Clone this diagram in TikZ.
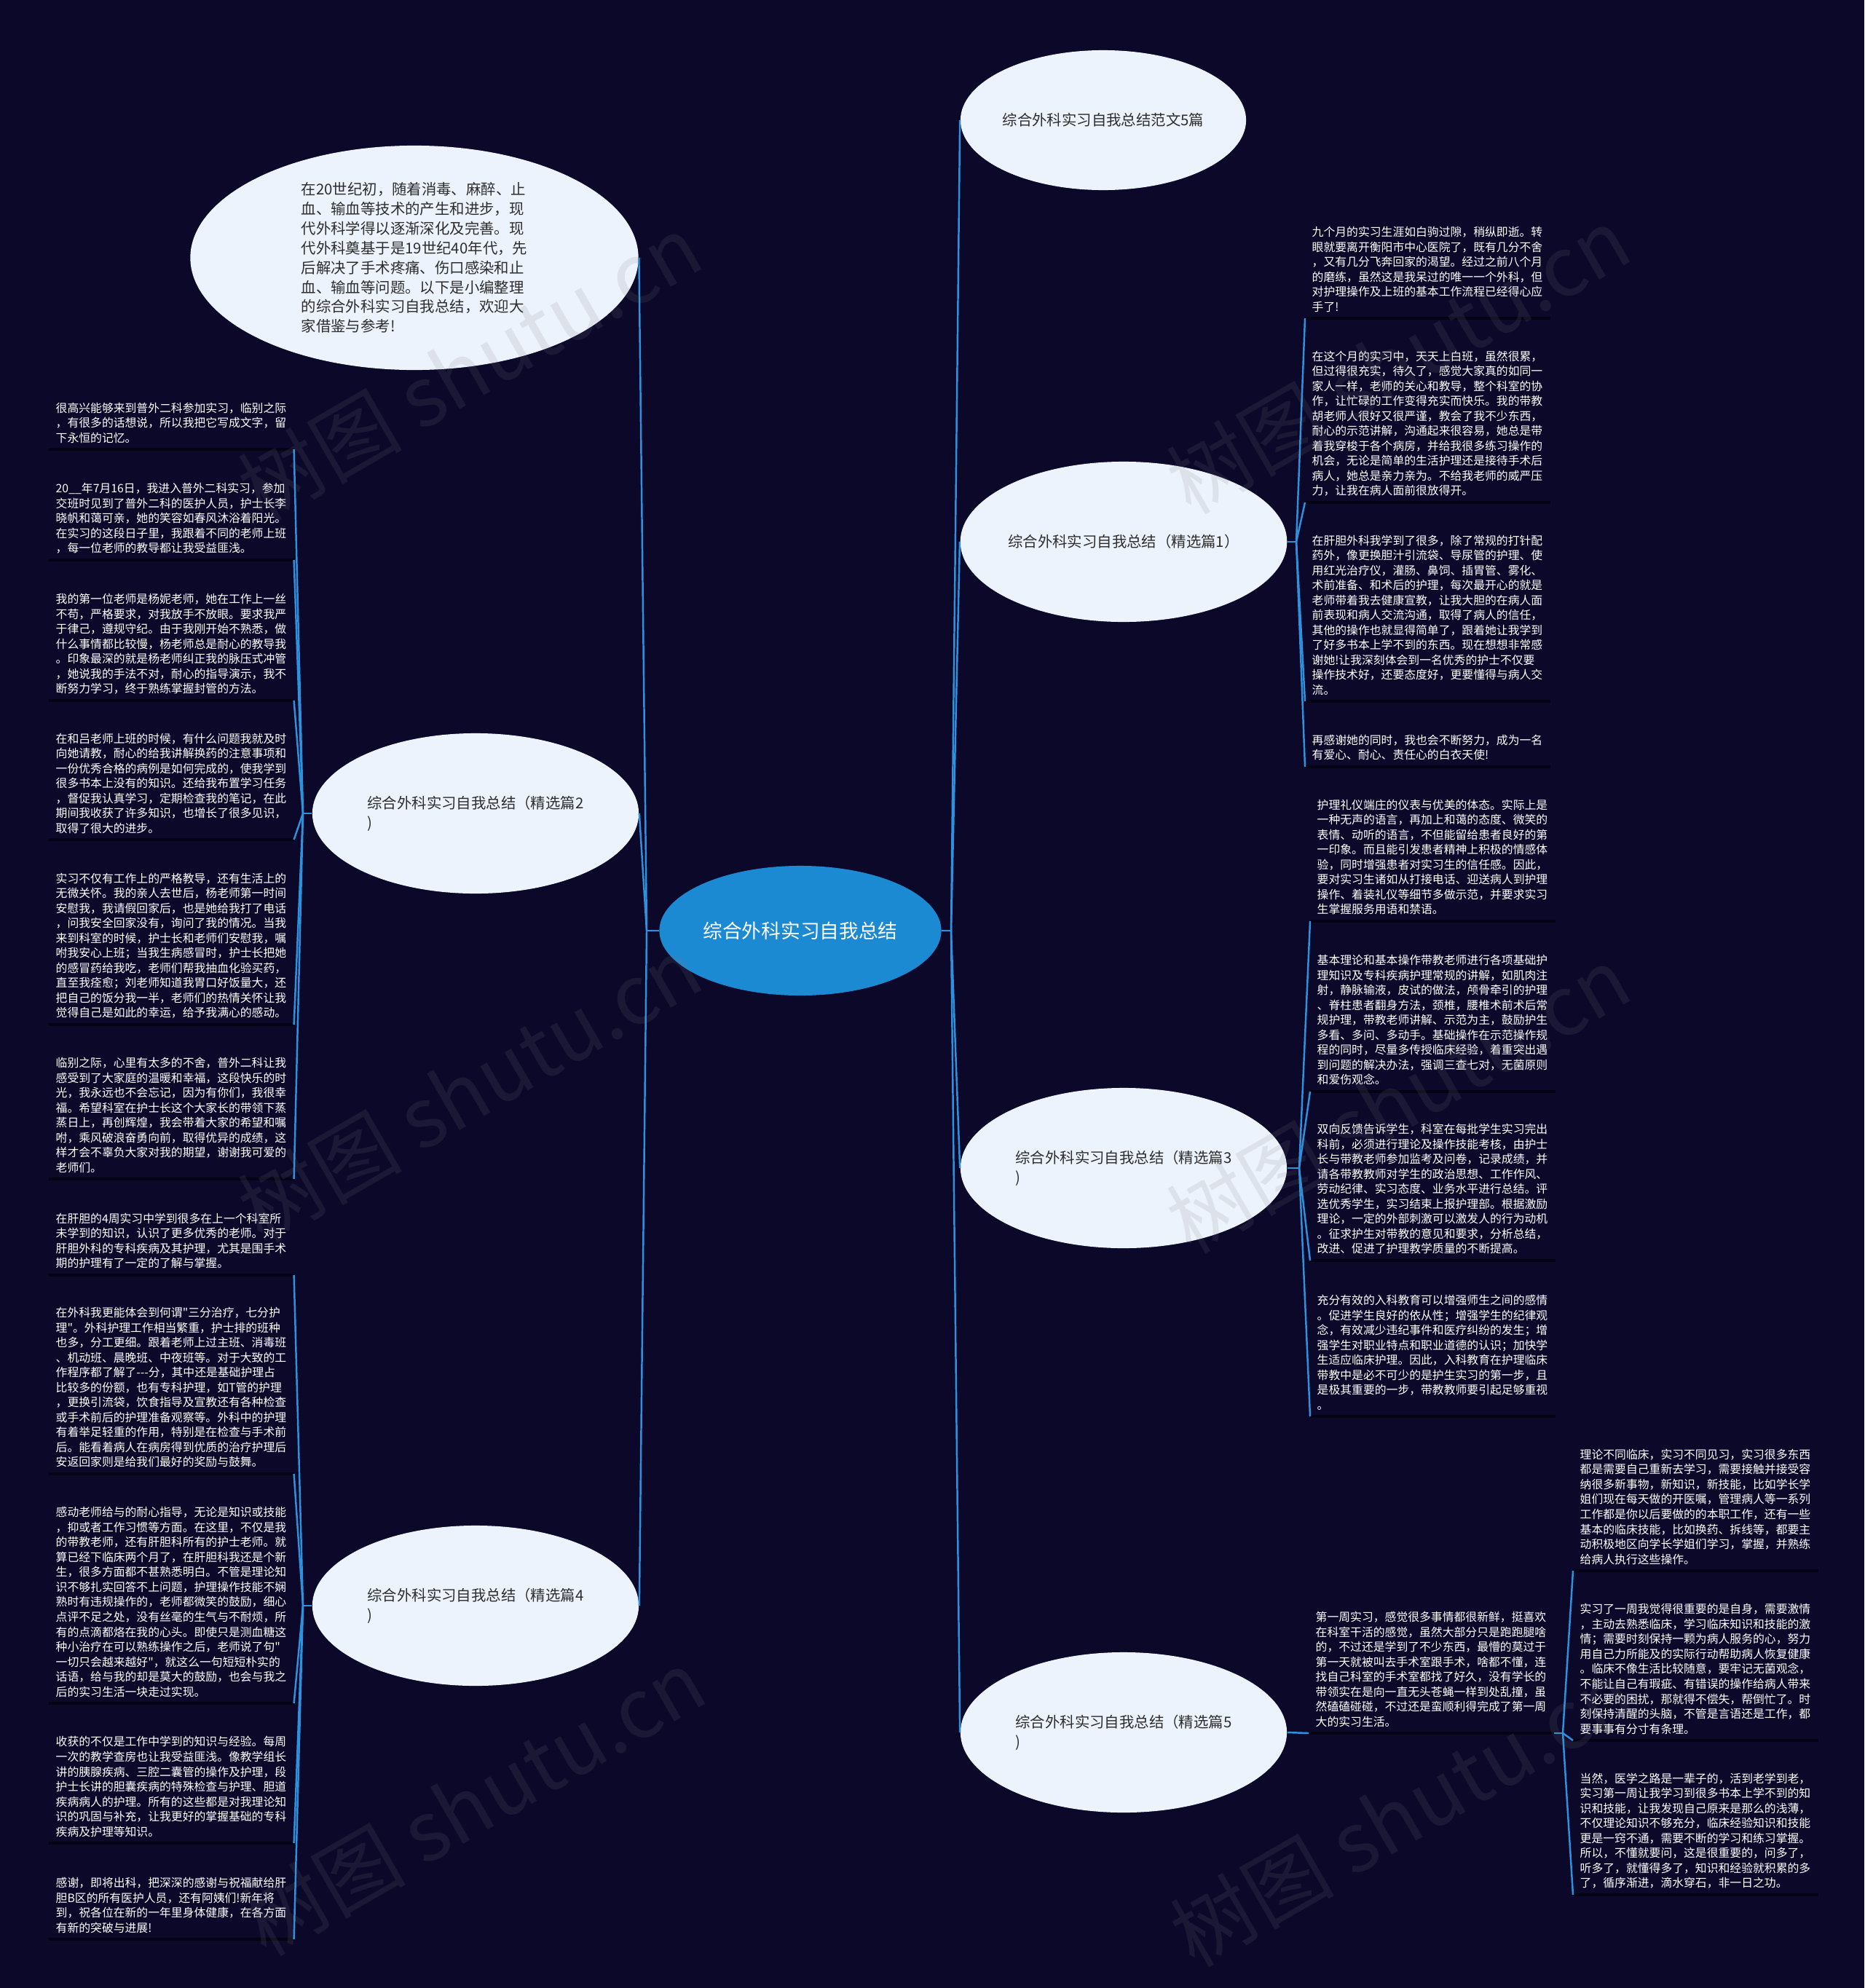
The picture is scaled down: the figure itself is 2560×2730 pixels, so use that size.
\documentclass[tikz,border=0pt]{standalone}
\usepackage{fontspec}
\usepackage{xcolor}
\usepackage{tikz}
\usetikzlibrary{shapes.geometric}
\newfontfamily\cjk{Noto Sans CJK SC}
\definecolor{night}{RGB}{11,8,42}
\definecolor{skyline}{RGB}{46,145,222}
\definecolor{rootblue}{RGB}{28,137,211}
\definecolor{paleblue}{RGB}{237,243,252}
\definecolor{inkgray}{RGB}{45,45,45}
\definecolor{shade}{RGB}{3,3,20}
\newcommand{\leaffont}{\cjk\fontsize{4.5}{5.83}\selectfont}
\newcommand{\topicfont}{\cjk\fontsize{5.8}{7.6}\selectfont}

\begin{document}
\begin{tikzpicture}[x=0.01cm, y=-0.01cm, every node/.style={inner sep=0pt},
  root/.style={ellipse, fill=rootblue, text=white, minimum width=3.87cm, minimum height=1.78cm, font=\cjk\fontsize{7.6}{9}\selectfont},
  topic/.style={ellipse, fill=paleblue, text=inkgray, minimum width=4.48cm, minimum height=2.2cm, align=left, font=\topicfont},
  leaf/.style={anchor=south west, text=white, text width=3.17cm, align=left, inner xsep=0.09cm, inner ysep=0.08cm, font=\leaffont},
  branch/.style={draw=skyline, line width=0.7pt},
  leafrule/.style={draw=shade, line width=0.9pt},
  wmark/.style={rotate=30, text=gray, opacity=0.14, font=\cjk\fontsize{32}{32}\selectfont}]
\fill[night] (0,0) rectangle (2560,2730);
\useasboundingbox (0,0) rectangle (2560,2730);

% centre and first level
\node[root] (c) at (1099,1278) {综合外科实习自我总结};
\node[topic, minimum width=6.15cm, minimum height=3.08cm, font=\cjk\fontsize{5.8}{7.63}\selectfont] (intro) at (569,354) {在20世纪初，随着消毒、麻醉、止\\血、输血等技术的产生和进步，现\\代外科学得以逐渐深化及完善。现\\代外科奠基于是19世纪40年代，先\\后解决了手术疼痛、伤口感染和止\\血、输血等问题。以下是小编整理\\的综合外科实习自我总结，欢迎大\\家借鉴与参考!};
\node[topic, minimum width=3.92cm, minimum height=1.92cm] (p0) at (1515,165) {综合外科实习自我总结范文5篇};
\node[topic] (p1) at (1543,744) {综合外科实习自我总结（精选篇1）};
\node[topic] (p2) at (653,1117) {综合外科实习自我总结（精选篇2\\)};
\node[topic] (p3) at (1543,1604) {综合外科实习自我总结（精选篇3\\)};
\node[topic] (p4) at (653,2205) {综合外科实习自我总结（精选篇4\\)};
\node[topic] (p5) at (1543,2379) {综合外科实习自我总结（精选篇5\\)};

% left leaves
\node[leaf] (l1) at (67,617) {很高兴能够来到普外二科参加实习，临别之际\\，有很多的话想说，所以我把它写成文字，留\\下永恒的记忆。};
\node[leaf] (l2) at (67,769) {20\_\_年7月16日，我进入普外二科实习，参加\\交班时见到了普外二科的医护人员，护士长李\\晓帆和蔼可亲，她的笑容如春风沐浴着阳光。\\在实习的这段日子里，我跟着不同的老师上班\\，每一位老师的教导都让我受益匪浅。};
\node[leaf] (l3) at (67,962) {我的第一位老师是杨妮老师，她在工作上一丝\\不苟，严格要求，对我放手不放眼。要求我严\\于律己，遵规守纪。由于我刚开始不熟悉，做\\什么事情都比较慢，杨老师总是耐心的教导我\\。印象最深的就是杨老师纠正我的脉压式冲管\\，她说我的手法不对，耐心的指导演示，我不\\断努力学习，终于熟练掌握封管的方法。};
\node[leaf] (l4) at (67,1153) {在和吕老师上班的时候，有什么问题我就及时\\向她请教，耐心的给我讲解换药的注意事项和\\一份优秀合格的病例是如何完成的，使我学到\\很多书本上没有的知识。还给我布置学习任务\\，督促我认真学习，定期检查我的笔记，在此\\期间我收获了许多知识，也增长了很多见识，\\取得了很大的进步。};
\node[leaf] (l5) at (67,1407) {实习不仅有工作上的严格教导，还有生活上的\\无微关怀。我的亲人去世后，杨老师第一时间\\安慰我，我请假回家后，也是她给我打了电话\\，问我安全回家没有，询问了我的情况。当我\\来到科室的时候，护士长和老师们安慰我，嘱\\咐我安心上班；当我生病感冒时，护士长把她\\的感冒药给我吃，老师们帮我抽血化验买药，\\直至我痊愈；刘老师知道我胃口好饭量大，还\\把自己的饭分我一半，老师们的热情关怀让我\\觉得自己是如此的幸运，给予我满心的感动。};
\node[leaf] (l6) at (67,1619) {临别之际，心里有太多的不舍，普外二科让我\\感受到了大家庭的温暖和幸福，这段快乐的时\\光，我永远也不会忘记，因为有你们，我很幸\\福。希望科室在护士长这个大家长的带领下蒸\\蒸日上，再创辉煌，我会带着大家的希望和嘱\\咐，乘风破浪奋勇向前，取得优异的成绩，这\\样才会不辜负大家对我的期望，谢谢我可爱的\\老师们。};
\node[leaf] (l7) at (67,1751) {在肝胆的4周实习中学到很多在上一个科室所\\未学到的知识，认识了更多优秀的老师。对于\\肝胆外科的专科疾病及其护理，尤其是围手术\\期的护理有了一定的了解与掌握。};
\node[leaf] (l8) at (67,2024) {在外科我更能体会到何谓"三分治疗，七分护\\理"。外科护理工作相当繁重，护士排的班种\\也多，分工更细。跟着老师上过主班、消毒班\\、机动班、晨晚班、中夜班等。对于大致的工\\作程序都了解了-{}-{}-分，其中还是基础护理占\\比较多的份额，也有专科护理，如T管的护理\\，更换引流袋，饮食指导及宣教还有各种检查\\或手术前后的护理准备观察等。外科中的护理\\有着举足轻重的作用，特别是在检查与手术前\\后。能看着病人在病房得到优质的治疗护理后\\安返回家则是给我们最好的奖励与鼓舞。};
\node[leaf] (l9) at (67,2339) {感动老师给与的耐心指导，无论是知识或技能\\，抑或者工作习惯等方面。在这里，不仅是我\\的带教老师，还有肝胆科所有的护士老师。就\\算已经下临床两个月了，在肝胆科我还是个新\\生，很多方面都不甚熟悉明白。不管是理论知\\识不够扎实回答不上问题，护理操作技能不娴\\熟时有违规操作的，老师都微笑的鼓励，细心\\点评不足之处，没有丝毫的生气与不耐烦，所\\有的点滴都烙在我的心头。即使只是测血糖这\\种小治疗在可以熟练操作之后，老师说了句"\\一切只会越来越好"，就这么一句短短朴实的\\话语，给与我的却是莫大的鼓励，也会与我之\\后的实习生活一块走过实现。};
\node[leaf] (l10) at (67,2531) {收获的不仅是工作中学到的知识与经验。每周\\一次的教学查房也让我受益匪浅。像教学组长\\讲的胰腺疾病、三腔二囊管的操作及护理，段\\护士长讲的胆囊疾病的特殊检查与护理、胆道\\疾病病人的护理。所有的这些都是对我理论知\\识的巩固与补充，让我更好的掌握基础的专科\\疾病及护理等知识。};
\node[leaf] (l11) at (67,2663) {感谢，即将出科，把深深的感谢与祝福献给肝\\胆B区的所有医护人员，还有阿姨们!新年将\\到，祝各位在新的一年里身体健康，在各方面\\有新的突破与进展!};

% right leaves
\node[leaf] (r1) at (1792,437) {九个月的实习生涯如白驹过隙，稍纵即逝。转\\眼就要离开衡阳市中心医院了，既有几分不舍\\，又有几分飞奔回家的渴望。经过之前八个月\\的磨练，虽然这是我呆过的唯一一个外科，但\\对护理操作及上班的基本工作流程已经得心应\\手了!};
\node[leaf] (r2) at (1792,690) {在这个月的实习中，天天上白班，虽然很累，\\但过得很充实，待久了，感觉大家真的如同一\\家人一样，老师的关心和教导，整个科室的协\\作，让忙碌的工作变得充实而快乐。我的带教\\胡老师人很好又很严谨，教会了我不少东西，\\耐心的示范讲解，沟通起来很容易，她总是带\\着我穿梭于各个病房，并给我很多练习操作的\\机会，无论是简单的生活护理还是接待手术后\\病人，她总是亲力亲为。不给我老师的威严压\\力，让我在病人面前很放得开。};
\node[leaf] (r3) at (1792,963) {在肝胆外科我学到了很多，除了常规的打针配\\药外，像更换胆汁引流袋、导尿管的护理、使\\用红光治疗仪，灌肠、鼻饲、插胃管、雾化、\\术前准备、和术后的护理，每次最开心的就是\\老师带着我去健康宣教，让我大胆的在病人面\\前表现和病人交流沟通，取得了病人的信任，\\其他的操作也就显得简单了，跟着她让我学到\\了好多书本上学不到的东西。现在想想非常感\\谢她!让我深刻体会到一名优秀的护士不仅要\\操作技术好，还要态度好，更要懂得与病人交\\流。};
\node[leaf] (r4) at (1792,1053) {再感谢她的同时，我也会不断努力，成为一名\\有爱心、耐心、责任心的白衣天使!};
\node[leaf] (r5) at (1799,1265) {护理礼仪端庄的仪表与优美的体态。实际上是\\一种无声的语言，再加上和蔼的态度、微笑的\\表情、动听的语言，不但能留给患者良好的第\\一印象。而且能引发患者精神上积极的情感体\\验，同时增强患者对实习生的信任感。因此，\\要对实习生诸如从打接电话、迎送病人到护理\\操作、着装礼仪等细节多做示范，并要求实习\\生掌握服务用语和禁语。};
\node[leaf] (r6) at (1799,1499) {基本理论和基本操作带教老师进行各项基础护\\理知识及专科疾病护理常规的讲解，如肌肉注\\射，静脉输液，皮试的做法，颅骨牵引的护理\\、脊柱患者翻身方法，颈椎，腰椎术前术后常\\规护理，带教老师讲解、示范为主，鼓励护生\\多看、多问、多动手。基础操作在示范操作规\\程的同时，尽量多传授临床经验，着重突出遇\\到问题的解决办法，强调三查七对，无菌原则\\和爱伤观念。};
\node[leaf] (r7) at (1799,1731) {双向反馈告诉学生，科室在每批学生实习完出\\科前，必须进行理论及操作技能考核，由护士\\长与带教老师参加监考及问卷，记录成绩，并\\请各带教教师对学生的政治思想、工作作风、\\劳动纪律、实习态度、业务水平进行总结。评\\选优秀学生，实习结束上报护理部。根据激励\\理论，一定的外部刺激可以激发人的行为动机\\。征求护生对带教的意见和要求，分析总结，\\改进、促进了护理教学质量的不断提高。};
\node[leaf] (r8) at (1799,1945) {充分有效的入科教育可以增强师生之间的感情\\。促进学生良好的依从性；增强学生的纪律观\\念，有效减少违纪事件和医疗纠纷的发生；增\\强学生对职业特点和职业道德的认识；加快学\\生适应临床护理。因此，入科教育在护理临床\\带教中是必不可少的是护生实习的第一步，且\\是极其重要的一步，带教教师要引起足够重视\\。};
\node[leaf] (m1) at (1797,2380) {第一周实习，感觉很多事情都很新鲜，挺喜欢\\在科室干活的感觉，虽然大部分只是跑跑腿啥\\的，不过还是学到了不少东西，最懵的莫过于\\第一天就被叫去手术室跟手术，啥都不懂，连\\找自己科室的手术室都找了好久，没有学长的\\带领实在是向一直无头苍蝇一样到处乱撞，虽\\然磕磕碰碰，不过还是蛮顺利得完成了第一周\\大的实习生活。};
\node[leaf] (f1) at (2160,2157) {理论不同临床，实习不同见习，实习很多东西\\都是需要自己重新去学习，需要接触并接受容\\纳很多新事物，新知识，新技能，比如学长学\\姐们现在每天做的开医嘱，管理病人等一系列\\工作都是你以后要做的的本职工作，还有一些\\基本的临床技能，比如换药、拆线等，都要主\\动积极地区向学长学姐们学习，掌握，并熟练\\给病人执行这些操作。};
\node[leaf] (f2) at (2160,2390) {实习了一周我觉得很重要的是自身，需要激情\\，主动去熟悉临床，学习临床知识和技能的激\\情；需要时刻保持一颗为病人服务的心，努力\\用自己力所能及的实际行动帮助病人恢复健康\\。临床不像生活比较随意，要牢记无菌观念，\\不能让自己有瑕疵、有错误的操作给病人带来\\不必要的困扰，那就得不偿失，帮倒忙了。时\\刻保持清醒的头脑，不管是言语还是工作，都\\要事事有分寸有条理。};
\node[leaf] (f3) at (2160,2602) {当然，医学之路是一辈子的，活到老学到老，\\实习第一周让我学习到很多书本上学不到的知\\识和技能，让我发现自己原来是那么的浅薄，\\不仅理论知识不够充分，临床经验知识和技能\\更是一窍不通，需要不断的学习和练习掌握。\\所以，不懂就要问，这是很重要的，问多了，\\听多了，就懂得多了，知识和经验就积累的多\\了，循序渐进，滴水穿石，非一日之功。};

\foreach \n in {l1,l2,l3,l4,l5,l6,l7,l8,l9,l10,l11,r1,r2,r3,r4,r5,r6,r7,r8,m1,f1,f2,f3}
  \draw[leafrule] (\n.south west) -- (\n.south east);

% connectors
\coordinate (jl) at (888,1278);
\coordinate (jr) at (1306,1278);
\draw[branch] (c.west) -- (jl);
\draw[branch] (c.east) -- (jr);
\foreach \n in {intro,p2,p4}
  \draw[branch] (jl) -- (\n.east);
\foreach \n in {p0,p1,p3,p5}
  \draw[branch] (jr) -- (\n.west);

\coordinate (j2) at (416,1117);
\coordinate (j4) at (416,2205);
\coordinate (j1) at (1780,744);
\coordinate (j3) at (1784,1604);
\coordinate (j5) at (2146,2380);
\draw[branch] (p2.west) -- (j2);
\draw[branch] (p4.west) -- (j4);
\draw[branch] (p1.east) -- (j1);
\draw[branch] (p3.east) -- (j3);
\foreach \n in {l1,l2,l3,l4,l5,l6}
  \draw[branch] (j2) -- (\n.south east);
\foreach \n in {l7,l8,l9,l10,l11}
  \draw[branch] (j4) -- (\n.south east);
\foreach \n in {r1,r2,r3,r4}
  \draw[branch] (j1) -- (\n.south west);
\foreach \n in {r5,r6,r7,r8}
  \draw[branch] (j3) -- (\n.south west);
\draw[branch] (p5.east) -- (m1.south west);
\draw[branch] (m1.south east) -- (j5);
\foreach \n in {f1,f2,f3}
  \draw[branch] (j5) -- (\n.south west);

% watermarks
\foreach \wx/\wy [count=\i] in {645/505,645/1495,650/2475,1920/495,1920/1510,1925/2490}
  \node[wmark] (wm\i) at (\wx,\wy) {树图\ shutu.cn};
\end{tikzpicture}
\end{document}
